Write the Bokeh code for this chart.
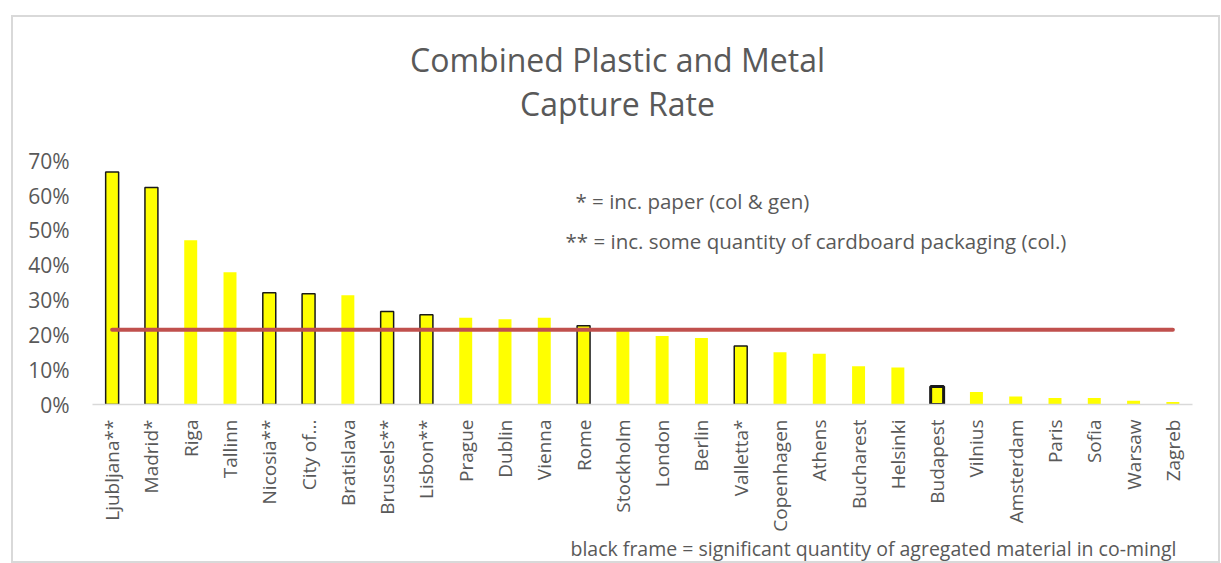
import math
from bokeh.plotting import figure
from bokeh.layouts import column
from bokeh.models import (ColumnDataSource, FactorRange, Range1d, FixedTicker,
                          NumeralTickFormatter, Label)
from bokeh.embed import file_html
from bokeh.resources import INLINE

# ---- data ----
cities = ["Ljubljana**", "Madrid*", "Riga", "Tallinn", "Nicosia**", "City of...",
          "Bratislava", "Brussels**", "Lisbon**", "Prague", "Dublin", "Vienna",
          "Rome", "Stockholm", "London", "Berlin", "Valletta*", "Copenhagen",
          "Athens", "Bucharest", "Helsinki", "Budapest", "Vilnius", "Amsterdam",
          "Paris", "Sofia", "Warsaw", "Zagreb"]
capture_rate = [0.668, 0.623, 0.472, 0.380, 0.321, 0.318, 0.314, 0.267, 0.258,
                0.249, 0.245, 0.249, 0.226, 0.211, 0.197, 0.191, 0.168, 0.150,
                0.146, 0.110, 0.106, 0.052, 0.036, 0.023, 0.019, 0.019, 0.011,
                0.007]
black_frame = [True, True, False, False, True, True, False, True, True, False,
               False, False, True, False, False, False, True, False, False,
               False, False, True, False, False, False, False, False, False]
average = 0.215
y_ticks = [0, 0.1, 0.2, 0.3, 0.4, 0.5, 0.6, 0.7]

title_lines = ["Combined Plastic and Metal", "Capture Rate"]
note_single = "* = inc. paper (col & gen)"
note_double = "** = inc.  some quantity of cardboard packaging (col.)"
note_frame = "black frame = significant quantity of agregated material in co-mingl"

FONT = "Open Sans"
GREY = "#595959"
EDGE = "#D9D9D9"

plain = ColumnDataSource(dict(
    x=[c for c, f in zip(cities, black_frame) if not f],
    top=[v for v, f in zip(capture_rate, black_frame) if not f]))
framed_c = [c for c, f in zip(cities, black_frame) if f]
framed = ColumnDataSource(dict(
    x=framed_c,
    top=[v for v, f in zip(capture_rate, black_frame) if f],
    lw=[3.0 if c == "Budapest" else 1.5 for c in framed_c]))

# main chart: frame spans x 92..1192, y 20..~407; 0.7 of value == ~245.6 px
p = figure(width=1221, height=534, x_range=FactorRange(*cities, range_padding=0),
           y_range=Range1d(0, 1.103), output_backend="svg", toolbar_location=None,
           min_border_left=92, min_border_right=29, min_border_top=20,
           min_border_bottom=127)
p.outline_line_color = None
p.xgrid.grid_line_color = None
p.ygrid.grid_line_color = None
p.background_fill_color = None
p.border_fill_color = None

p.vbar(x="x", top="top", width=0.33, source=plain, fill_color="#FFFF00",
       line_color=None)
p.vbar(x="x", top="top", width=0.33, source=framed, fill_color="#FFFF00",
       line_color="#1a1a1a", line_width="lw")
p.line(x=[cities[0], cities[-1]], y=[average, average], line_color="#C0504D",
       line_width=4, line_cap="round")

xa = p.xaxis[0]
xa.axis_line_color = EDGE
xa.axis_line_width = 1.5
xa.major_tick_line_color = None
xa.minor_tick_line_color = None
xa.major_label_orientation = math.pi / 2
xa.major_label_text_font = FONT
xa.major_label_text_font_size = "19px"
xa.major_label_text_color = GREY
xa.major_label_standoff = 9

ya = p.yaxis[0]
ya.ticker = FixedTicker(ticks=y_ticks)
ya.formatter = NumeralTickFormatter(format="0%")
ya.axis_line_color = None
ya.major_tick_line_color = None
ya.minor_tick_line_color = None
ya.major_label_text_font = FONT
ya.major_label_text_font_size = "21px"
ya.major_label_text_color = GREY
ya.major_label_standoff = 17

def lab(fig, text, x, y, size, align="left"):
    fig.add_layout(Label(x=x, y=y, x_units="screen", y_units="screen", text=text,
                         text_align=align, text_baseline="middle", text_font=FONT,
                         text_font_size=size, text_color=GREY))

lab(p, title_lines[0], 525, 345, "32px", "center")
lab(p, title_lines[1], 525, 301, "32px", "center")
lab(p, note_single, 483, 204, "20.5px")
lab(p, note_double, 473, 164, "20.5px")

# footer strip holding the black-frame note (its frame aligns with the chart's)
q = figure(width=1221, height=29, x_range=Range1d(0, 1), y_range=Range1d(0, 1),
           x_axis_type=None, y_axis_type=None, output_backend="svg",
           toolbar_location=None, min_border=0)
q.outline_line_color = None
q.grid.grid_line_color = None
q.background_fill_color = None
q.border_fill_color = None
lab(q, note_frame, 478, 15, "19.5px")

# light grey chart-area frame, painted behind the transparent canvases
g = f"linear-gradient({EDGE},{EDGE})"
frame_css = ", ".join([
    f"{g} 11px 15px / 2px 548px no-repeat",
    f"{g} 11px 15px / 1209px 2px no-repeat",
    f"{g} 1218px 15px / 2px 548px no-repeat",
    f"{g} 11px 561px / 1209px 2px no-repeat",
    "white",
])
layout = column(p, q, spacing=0, styles={"background": frame_css})
open("out.html", "w").write(file_html(layout, INLINE))
